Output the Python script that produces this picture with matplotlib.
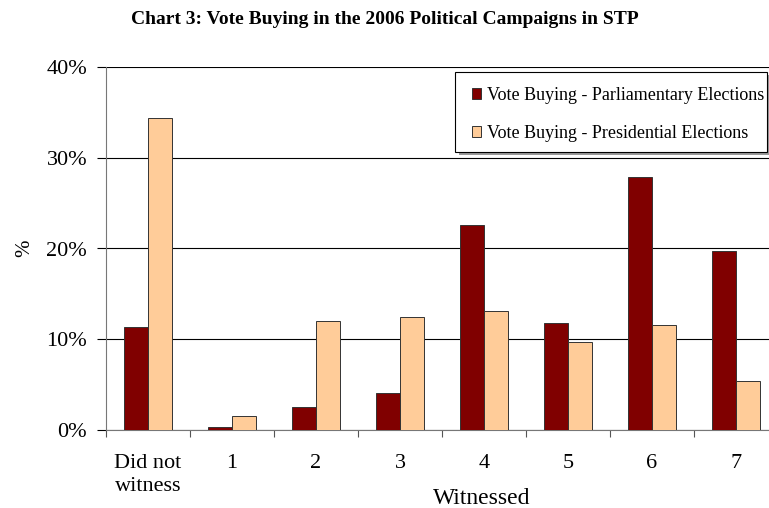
import numpy as np
import matplotlib.pyplot as plt
from matplotlib.patches import Rectangle

# Chart 3 data: share of respondents (%) by number of vote-buying cases witnessed
categories = ["Did not\nwitness", "1", "2", "3", "4", "5", "6", "7"]
parliamentary = [11.4, 0.3, 2.5, 4.1, 22.6, 11.8, 27.9, 19.7]
presidential = [34.4, 1.5, 12.0, 12.5, 13.1, 9.7, 11.6, 5.4]

plt.rcParams['font.family'] = ['Liberation Serif', 'DejaVu Serif']

W, H = 769, 508
fig = plt.figure(figsize=(W / 100, H / 100), dpi=100)
ax = fig.add_axes([106 / W, 78 / H, 672 / W, 363 / H])

x = np.arange(len(categories))
w = 0.29
ax.bar(x - w / 2, parliamentary, w, color='#800000', edgecolor='#333333', linewidth=0.7,
       label='Vote Buying - Parliamentary Elections', zorder=3)
ax.bar(x + w / 2, presidential, w, color='#FFCC99', edgecolor='#333333', linewidth=0.7,
       label='Vote Buying - Presidential Elections', zorder=3)

ax.set_xlim(-0.5, len(categories) - 0.5)
ax.set_ylim(0, 40)
ax.set_yticks([0, 10, 20, 30, 40])
ax.set_yticklabels(['0%', '10%', '20%', '30%', '40%'], fontsize=16)
ax.yaxis.grid(True, color='black', linewidth=0.8, zorder=0)

# ticks between categories, labels under categories
ax.set_xticks(np.arange(-0.5, len(categories), 1.0))
ax.set_xticklabels([])
ax.set_xticks(x, minor=True)
ax.set_xticklabels(categories, minor=True, fontsize=16, va='top', linespacing=1.3)
ax.tick_params(axis='x', which='minor', length=0, pad=17)
ax.tick_params(axis='x', which='major', length=5, color='#555555')
ax.tick_params(axis='y', length=6.5, width=0.8, pad=7)

for s in ['top', 'right']:
    ax.spines[s].set_visible(False)
ax.spines['left'].set_color('#777777')
ax.spines['bottom'].set_color('#777777')

ax.set_ylabel('%', fontsize=15, labelpad=9)
ax.annotate('Witnessed', xy=(4, 0), xycoords=('data', 'axes fraction'),
            xytext=(-2, -53), textcoords='offset points', ha='center', va='baseline', fontsize=17)

# legend box with a grey drop shadow, legend entries drawn without frame
ax.add_patch(Rectangle((459 / W, 1 - 155 / H), 312 / W, 80 / H, transform=fig.transFigure,
                       facecolor='#999999', edgecolor='none', zorder=4, clip_on=False))
ax.add_patch(Rectangle((455 / W, 1 - 152 / H), 312 / W, 80 / H, transform=fig.transFigure,
                       facecolor='white', edgecolor='black', linewidth=0.8, zorder=4, clip_on=False))
leg = ax.legend(loc='upper left', bbox_to_anchor=(472 / W, 1 - 87 / H),
                bbox_transform=fig.transFigure, fontsize=13, frameon=False,
                handlelength=0.5, handleheight=0.5, handletextpad=0.33,
                labelspacing=1.15, borderpad=0, borderaxespad=0)
leg.set_zorder(5)

fig.text(385 / W, 1 - 19 / H, 'Chart 3: Vote Buying in the 2006 Political Campaigns in STP',
         ha='center', va='center', fontsize=14, fontweight='bold')

fig.savefig('out.png', dpi=100)
